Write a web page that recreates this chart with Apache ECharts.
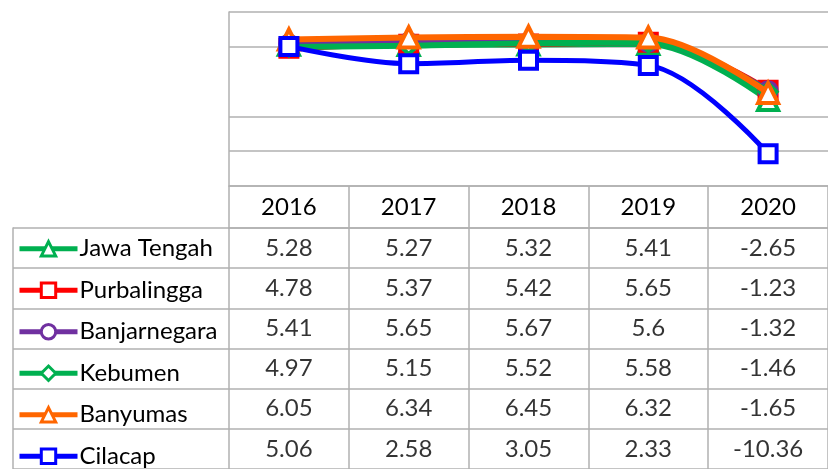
<!DOCTYPE html>
<html>
<head>
<meta charset="utf-8">
<script src="https://cdn.jsdelivr.net/npm/echarts@6/dist/echarts.min.js"></script>
<style>html,body{margin:0;padding:0;background:#fff;}#c{width:828px;height:469px;}</style>
</head>
<body>
<div id="c"></div>
<script>
const years = ['2016', '2017', '2018', '2019', '2020'];
const seriesNames = ['Jawa Tengah', 'Purbalingga', 'Banjarnegara', 'Kebumen', 'Banyumas', 'Cilacap'];
const jawaTengah = [5.28, 5.27, 5.32, 5.41, -2.65];
const purbalingga = [4.78, 5.37, 5.42, 5.65, -1.23];
const banjarnegara = [5.41, 5.65, 5.67, 5.6, -1.32];
const kebumen = [4.97, 5.15, 5.52, 5.58, -1.46];
const banyumas = [6.05, 6.34, 6.45, 6.32, -1.65];
const cilacap = [5.06, 2.58, 3.05, 2.33, -10.36];
const yTicks = [-15, -10, -5, 0, 5, 10];

const values = [jawaTengah, purbalingga, banjarnegara, kebumen, banyumas, cilacap];
const colors = ['#00b050', '#ff0000', '#7030a0', '#00b050', '#ff6600', '#0000ff'];
const symbols = ['triangle', 'rect', 'circle', 'diamond', 'triangle', 'rect'];
const lineWidths = [6, 6, 6, 6, 6, 5];

const FONT = 'Lato';
const FS = 24;
const GRID_C = '#b0b0b0';
const ROW_H = 41.5;

const lineSeries = seriesNames.map((n, i) => ({
  name: n,
  type: 'line',
  xAxisIndex: 0, yAxisIndex: 0,
  data: values[i],
  smooth: 0.35,
  symbol: symbols[i],
  symbolSize: symbols[i] === 'triangle' ? 20 : 17,
  showAllSymbol: true,
  lineStyle: { color: colors[i], width: lineWidths[i] },
  itemStyle: { color: '#ffffff', borderColor: colors[i], borderWidth: 4 },
  z: 3 + i
}));

const cellData = [];
values.forEach((arr, si) => arr.forEach((v, yi) => cellData.push([yi, si, v])));

const splitColors = yTicks.map(t => t === 0 ? 'rgba(0,0,0,0)' : GRID_C);

const option = {
  animation: false,
  backgroundColor: '#ffffff',
  textStyle: { fontFamily: FONT },
  legend: {
    data: seriesNames,
    orient: 'vertical',
    left: 17,
    top: 228 + ROW_H / 2 - 12,
    padding: 0,
    itemGap: ROW_H - 24,
    itemWidth: 58,
    itemHeight: 18,
    selectedMode: false,
    lineStyle: { width: 5 },
    itemStyle: { borderWidth: 3 },
    textStyle: { fontFamily: FONT, fontSize: FS, color: '#000', lineHeight: 24, padding: [0, 0, 0, -3] }
  },
  grid: [
    { left: 229, top: 12, width: 611.5, height: 174, containLabel: false },
    { left: 229, top: 228, width: 611.5, height: ROW_H * 6 },
    { left: 13, top: 228, width: 216, height: ROW_H * 6 }
  ],
  xAxis: [
    {
      gridIndex: 0, type: 'category', data: years, boundaryGap: true,
      axisLine: { show: true, onZero: false, lineStyle: { color: GRID_C, width: 1.5 } },
      axisTick: { show: true, length: 42, lineStyle: { color: GRID_C, width: 1.5 } },
      axisLabel: { show: false },
      splitLine: { show: false }
    },
    {
      gridIndex: 1, type: 'category', data: years, boundaryGap: true, position: 'top',
      axisLine: { show: true, onZero: false, lineStyle: { color: GRID_C, width: 1.5 } },
      axisTick: { show: false },
      axisLabel: { show: true, fontFamily: FONT, fontSize: FS, color: '#000', margin: 21, verticalAlign: 'middle' },
      splitLine: { show: true, lineStyle: { color: GRID_C, width: 1.5 } }
    },
    {
      gridIndex: 2, type: 'value', min: 0, max: 1, show: false
    }
  ],
  yAxis: [
    {
      gridIndex: 0, type: 'value', min: -15, max: 10, interval: 5,
      axisLine: { show: true, onZero: false, lineStyle: { color: GRID_C, width: 1.5 } },
      axisTick: { show: false },
      axisLabel: { show: false },
      splitLine: { show: true, lineStyle: { color: splitColors, width: 1.5 } }
    },
    {
      gridIndex: 1, type: 'category', data: seriesNames, inverse: true, boundaryGap: true,
      axisLine: { show: false },
      axisTick: { show: false },
      axisLabel: { show: false },
      splitLine: { show: true, lineStyle: { color: GRID_C, width: 1.5 } }
    },
    {
      gridIndex: 2, type: 'category', data: seriesNames, inverse: true, boundaryGap: true,
      axisLine: { show: true, onZero: false, lineStyle: { color: GRID_C, width: 1.5 } },
      axisTick: { show: false },
      axisLabel: { show: false },
      splitLine: { show: true, lineStyle: { color: GRID_C, width: 1.5 } }
    }
  ],
  series: lineSeries.concat([
    {
      name: 'table', type: 'scatter', xAxisIndex: 1, yAxisIndex: 1,
      data: cellData, symbolSize: 0, silent: true,
      label: {
        show: true, position: 'inside', color: '#000', fontFamily: FONT, fontSize: FS,
        formatter: p => String(p.value[2])
      }
    }
  ])
};

const chart = echarts.init(document.getElementById('c'), null, { renderer: 'canvas' });
chart.setOption(option);
</script>
</body>
</html>
